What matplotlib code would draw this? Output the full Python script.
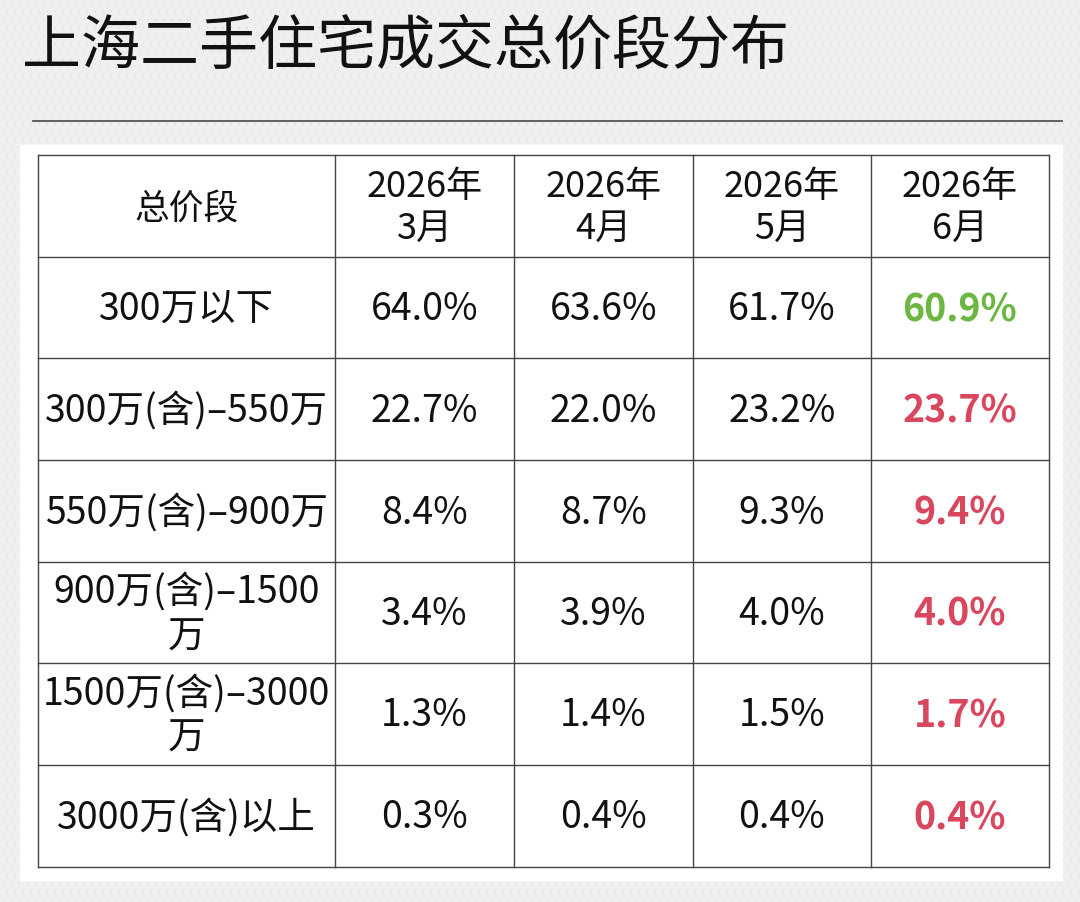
import matplotlib.pyplot as plt
import numpy as np

plt.rcParams['font.family'] = ['Noto Sans CJK SC', 'DejaVu Sans']

# datos de la tabla
title = '上海二手住宅成交总价段分布'
header = '总价段'
months = ['2026年\n3月', '2026年\n4月', '2026年\n5月', '2026年\n6月']
segments = ['300万以下', '300万(含)–550万', '550万(含)–900万',
            '900万(含)–1500\n万', '1500万(含)–3000\n万', '3000万(含)以上']
mar = [64.0, 22.7, 8.4, 3.4, 1.3, 0.3]
apr = [63.6, 22.0, 8.7, 3.9, 1.4, 0.4]
may = [61.7, 23.2, 9.3, 4.0, 1.5, 0.4]
jun = [60.9, 23.7, 9.4, 4.0, 1.7, 0.4]

W, H = 1080, 902
fig = plt.figure(figsize=(W / 100, H / 100), dpi=100)
ax = fig.add_axes([0, 0, 1, 1])
ax.set_xlim(0, W)
ax.set_ylim(H, 0)
ax.axis('off')

# fondo gris con puntos
ax.add_patch(plt.Rectangle((0, 0), W, H, color='#efefef', zorder=0))
gx, gy = np.meshgrid(np.arange(3, W, 8), np.arange(3, H, 8))
gx = gx + (np.arange(gx.shape[0])[:, None] % 2) * 4
ax.scatter(gx.ravel(), gy.ravel(), s=0.6, color='#cccccc', lw=0, zorder=1)

# panel blanco
ax.add_patch(plt.Rectangle((20, 145), 1042, 735, color='white', zorder=2))

ax.text(22, 47, title, fontsize=42.5, va='center', ha='left', color='#111111', zorder=5)
ax.plot([33, 1062], [121, 121], color='#555555', lw=1.3, zorder=5)

# rejilla de la tabla
xs = [38, 335, 514, 693, 871, 1049]
ys = [155, 257, 358, 460, 562, 663, 765, 867]
for x in xs:
    ax.plot([x, x], [ys[0], ys[-1]], color='#444444', lw=1.0, zorder=4)
for y in ys:
    ax.plot([xs[0], xs[-1]], [y, y], color='#444444', lw=1.0, zorder=4)

def cx(i):
    return (xs[i] + xs[i + 1]) / 2

def cy(j):
    return (ys[j] + ys[j + 1]) / 2 + 2

txt = dict(ha='center', va='center', color='#111111', zorder=6, linespacing=1.18)
ax.text(cx(0), cy(0) + 2, header, fontsize=25, **txt)
for i, m in enumerate(months):
    ax.text(cx(i + 1), cy(0), m, fontsize=26, **txt)

cols = [mar, apr, may, jun]
for j, seg in enumerate(segments):
    ax.text(cx(0), cy(j + 1), seg, fontsize=27, **txt)
    for i, col in enumerate(cols):
        kw = dict(txt)
        if i == len(cols) - 1:
            kw['color'] = '#6cb642' if col[j] < cols[i - 1][j] else '#d9475f'
            kw['fontweight'] = 'bold'
        ax.text(cx(i + 1), cy(j + 1), f'{col[j]:.1f}%', fontsize=27, **kw)

fig.savefig('out.png', dpi=100)
